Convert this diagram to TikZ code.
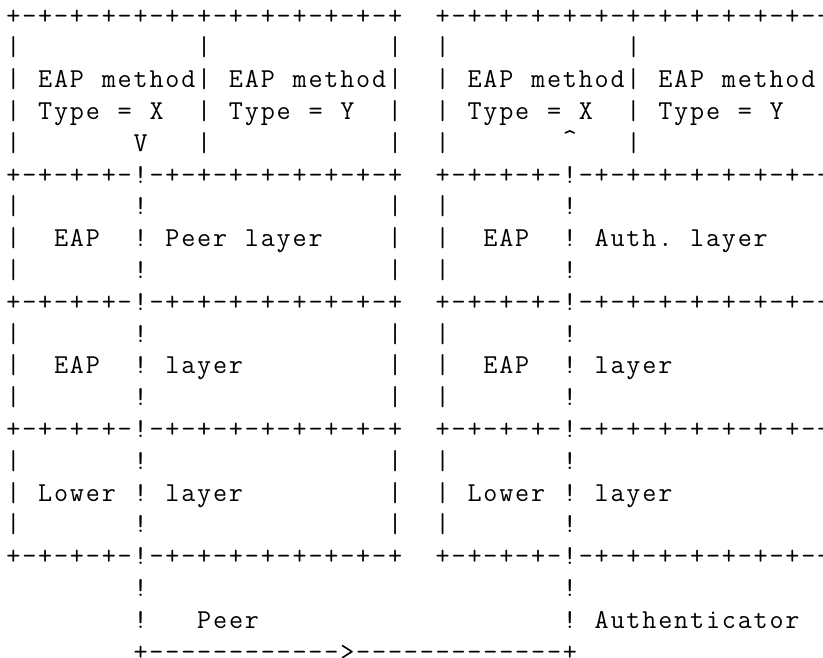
\documentclass[tikz,border=0pt]{standalone}
\newlength\cw
\setlength\cw{11.925pt}
\def\cells#1{\edef\celltmp{#1}\expandafter\cellsloop\celltmp\relax}
\def\cellsloop#1{\ifx#1\relax\else\ifx#1*\hbox to\cw{}\else\ifx#1@\makebox[\cw][c]{\raisebox{0.12em}{\textasciicircum}}\else\makebox[\cw][c]{#1}\fi\fi\expandafter\cellsloop\fi}
\def\zzB{+-+-+-+-+-+-+-+-+-+-+-+-+}
\def\zzD{+-+-+-+-!-+-+-+-+-+-+-+-+}
\def\zzE{|***********|***********|}
\def\zzM{|*EAP*method|*EAP*method|}
\def\zzT{|*Type*=*X**|*Type*=*Y**|}
\def\zzV{|*******V***|***********|}
\def\zzVr{|*******@***|***********|}
\def\zzP{|*******!***************|}
\def\zzL{|**EAP**!*Peer*layer****|}
\def\zzA{|**EAP**!*Auth.*layer***|}
\def\zzY{|**EAP**!*layer*********|}
\def\zzW{|*Lower*!*layer*********|}
\tikzset{asc/.style={anchor=base west,inner sep=0pt,outer sep=0pt,text=black,
  font=\ttfamily\fontsize{20.5pt}{24pt}\selectfont}}
\begin{document}
\begin{tikzpicture}[x=0.75pt,y=-0.75pt]
\fill[white] (0,0) rectangle (823,657);
\useasboundingbox (0,0) rectangle (823,657);
\clip (0,0) rectangle (823,657);
\node[asc] (r1)  at (5.5,24.0)  {\cells{\zzB**\zzB}};
\node[asc] (r2)  at (5.5,55.8)  {\cells{\zzE**\zzE}};
\node[asc] (r3)  at (5.5,87.6)  {\cells{\zzM**\zzM}};
\node[asc] (r4)  at (5.5,119.4) {\cells{\zzT**\zzT}};
\node[asc] (r5)  at (5.5,151.2) {\cells{\zzV**\zzVr}};
\node[asc] (r6)  at (5.5,183.0) {\cells{\zzD**\zzD}};
\node[asc] (r7)  at (5.5,214.8) {\cells{\zzP**\zzP}};
\node[asc] (r8)  at (5.5,246.6) {\cells{\zzL**\zzA}};
\node[asc] (r9)  at (5.5,278.4) {\cells{\zzP**\zzP}};
\node[asc] (r10) at (5.5,310.2) {\cells{\zzD**\zzD}};
\node[asc] (r11) at (5.5,342.0) {\cells{\zzP**\zzP}};
\node[asc] (r12) at (5.5,373.8) {\cells{\zzY**\zzY}};
\node[asc] (r13) at (5.5,405.6) {\cells{\zzP**\zzP}};
\node[asc] (r14) at (5.5,437.4) {\cells{\zzD**\zzD}};
\node[asc] (r15) at (5.5,469.2) {\cells{\zzP**\zzP}};
\node[asc] (r16) at (5.5,501.0) {\cells{\zzW**\zzW}};
\node[asc] (r17) at (5.5,532.8) {\cells{\zzP**\zzP}};
\node[asc] (r18) at (5.5,564.6) {\cells{\zzD**\zzD}};
\node[asc] (r19) at (5.5,596.4) {\cells{********!**************************!}};
\node[asc] (r20) at (5.5,628.2) {\cells{********!***Peer*******************!*Authenticator}};
\node[asc] (r21) at (5.5,660.0) {\cells{********+------------>-------------+}};
\end{tikzpicture}
\end{document}
